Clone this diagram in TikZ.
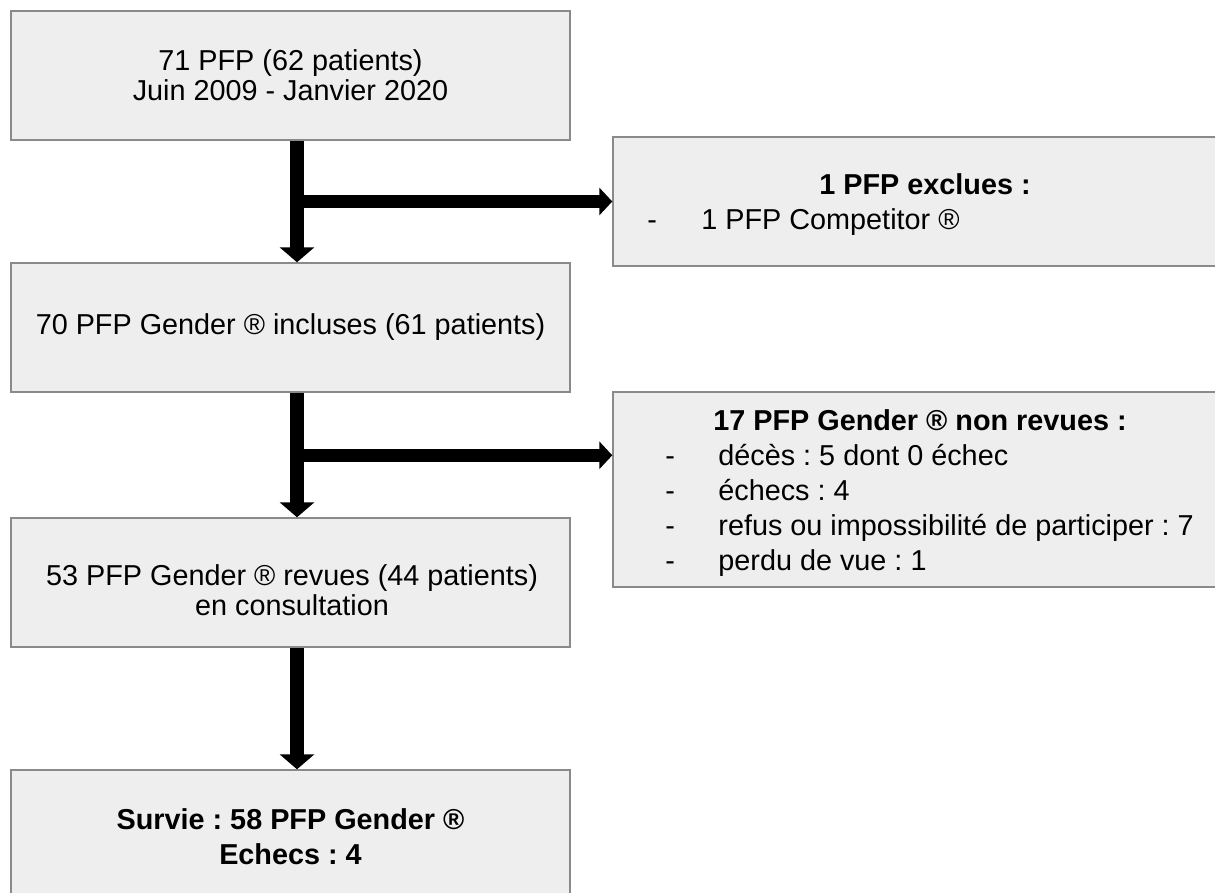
\documentclass[tikz,border=0pt]{standalone}
\usepackage{fontspec}
\setmainfont{Liberation Sans}
\usetikzlibrary{arrows.meta}
\definecolor{boxfill}{HTML}{EEEEEE}
\definecolor{boxline}{HTML}{8A8A8A}
\frenchspacing
\begin{document}
\begin{tikzpicture}[x=0.5pt,y=-0.5pt,
  box/.style={draw=boxline, fill=boxfill, line width=0.7pt, minimum width=279.5pt,
    minimum height=64.5pt, inner sep=0pt, align=center,
    font=\fontsize{14.4pt}{14.8pt}\selectfont},
  txt/.style={inner sep=0pt, font=\fontsize{14.4pt}{17.5pt}\selectfont},
  txtb/.style={inner sep=0pt, font=\fontsize{14.4pt}{17.5pt}\selectfont\bfseries},
  varr/.style={line width=7pt, -{Triangle[width=17pt,length=7.5pt]}},
  harr/.style={line width=6.5pt, -{Triangle[width=13.5pt,length=6.5pt]}}]
\useasboundingbox (0,0) rectangle (1215,893);
\clip (0,0) rectangle (1215,893);
% left column
\node[box] (b1) at (290.5,75.5) {71 PFP (62 patients)\\Juin 2009 - Janvier 2020};
\node[box] (b2) at (290.5,327.5) {70 PFP Gender ® incluses (61 patients)};
\node[box] (b3) at (290.5,582.5) {};
\node[txt, align=center, font=\fontsize{14.4pt}{14.8pt}\selectfont] (b3t) at (292,590) {53 PFP Gender ® revues (44 patients)\\en consultation};
\node[box, minimum height=67pt, font=\fontsize{14.4pt}{17.5pt}\selectfont\bfseries] (b4) at (290.5,837) {Survie : 58 PFP Gender ®\\Echecs : 4};
% right column
\node[box, minimum width=312pt] (r1) at (925,201.5) {};
\node[box, minimum width=312pt, minimum height=97.5pt] (r2) at (925,489.5) {};
\node[txtb, anchor=base] (r1t) at (925,195) {1 PFP exclues :};
\node[txt, anchor=base west] (r1d) at (647,230) {-};
\node[txt, anchor=base west] (r1a) at (701,230) {1 PFP Competitor ®};
\node[txtb, anchor=base] (r2t) at (920,430) {17 PFP Gender ® non revues :};
\node[txt, anchor=base west] (r2d1) at (665,465) {-};
\node[txt, anchor=base west] (r2a1) at (718,465) {décès : 5 dont 0 échec};
\node[txt, anchor=base west] (r2d2) at (665,500) {-};
\node[txt, anchor=base west] (r2a2) at (718,500) {échecs : 4};
\node[txt, anchor=base west] (r2d3) at (665,535) {-};
\node[txt, anchor=base west] (r2a3) at (718,535) {refus ou impossibilité de participer : 7};
\node[txt, anchor=base west] (r2d4) at (665,570) {-};
\node[txt, anchor=base west] (r2a4) at (718,570) {perdu de vue : 1};
% connectors
\coordinate (a1) at ([xshift=3.25pt]b1.south);
\draw[varr] (a1) -- (a1 |- b2.north);
\draw[harr] (a1 |- r1.west) -- (r1.west);
\coordinate (a2) at ([xshift=3.25pt]b2.south);
\draw[varr] (a2) -- (a2 |- b3.north);
\coordinate (h2) at ([yshift=-32pt]r2.north west);
\draw[harr] (a2 |- h2) -- (h2);
\coordinate (a3) at ([xshift=3.25pt]b3.south);
\draw[varr] (a3) -- (a3 |- b4.north);
\end{tikzpicture}
\end{document}
